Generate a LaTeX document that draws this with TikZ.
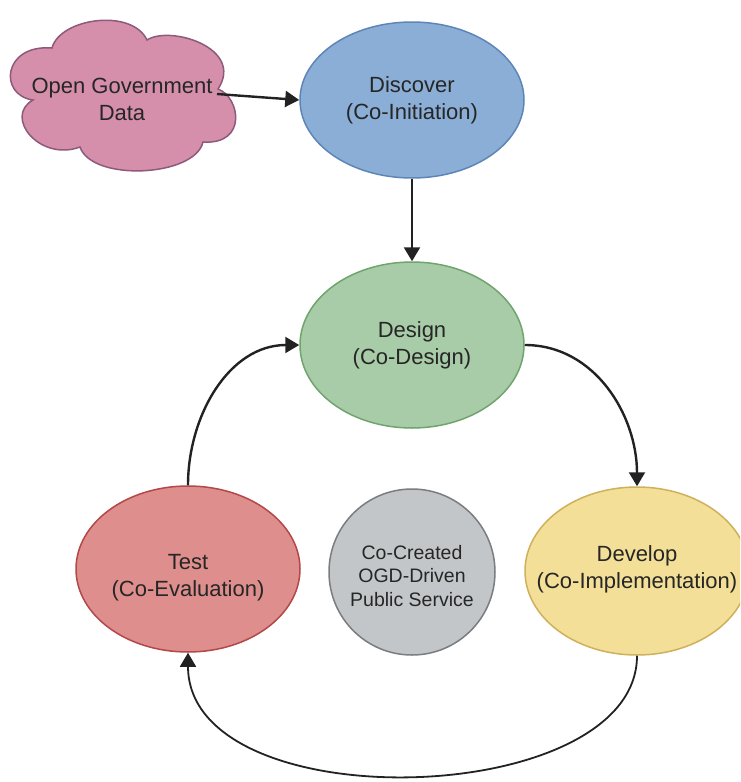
\documentclass[tikz,border=0pt]{standalone}
\usepackage{fontspec}
\setmainfont{Liberation Sans}
\usetikzlibrary{shapes.geometric,arrows.meta}

\definecolor{txt}{HTML}{262626}
\definecolor{cloudfill}{HTML}{D58FAB}
\definecolor{cloudline}{HTML}{8E5A7C}
\definecolor{bluefill}{HTML}{8AAED5}
\definecolor{blueline}{HTML}{5E85B8}
\definecolor{greenfill}{HTML}{A8CCA8}
\definecolor{greenline}{HTML}{6FA56D}
\definecolor{redfill}{HTML}{DE8E8C}
\definecolor{redline}{HTML}{B24848}
\definecolor{yellowfill}{HTML}{F3DF98}
\definecolor{yellowline}{HTML}{CFB05B}
\definecolor{greyfill}{HTML}{C3C6C9}
\definecolor{greyline}{HTML}{7A7D80}
\definecolor{arrowc}{HTML}{222222}

\tikzset{
  phase/.style={ellipse, draw, line width=1.5pt, minimum width=224pt,
    minimum height=166pt, inner sep=0pt},
  hub/.style={circle, draw=greyline, fill=greyfill, line width=1.5pt,
    minimum size=166pt, inner sep=0pt},
  label/.style={align=center, text=txt, inner sep=0pt,
    font=\fontsize{22}{27}\selectfont},
  hublabel/.style={align=center, text=txt, inner sep=0pt,
    font=\fontsize{19.5}{23.5}\selectfont},
  flow/.style={draw=arrowc, line width=2.4pt,
    -{Triangle[length=14pt,width=16pt]}},
}

\begin{document}
\begin{tikzpicture}[x=1pt,y=-1pt]
  \useasboundingbox (0,0) rectangle (740,782);
  \clip (0,0) rectangle (740,782);

  % open data cloud
  \draw[fill=cloudfill, draw=cloudline, line width=1.5pt]
    (52,48) .. controls (60,18) and (132,8) .. (147,40)
    .. controls (170,25) and (245,48) .. (218,89)
    .. controls (240,97) and (248,145) .. (203,142)
    .. controls (195,177) and (92,182) .. (80,147)
    .. controls (40,162) and (3,117) .. (33,100)
    .. controls (-2,95) and (3,44) .. (52,48) -- cycle;
  \node[label] (ogd) at (122,99) {Open Government\\Data};
  \coordinate (cloudtip) at (217,94);

  % phases of the cycle
  \node[phase, fill=bluefill, draw=blueline, minimum height=156pt]
    (discover) at (412,100) {};
  \node[phase, fill=greenfill, draw=greenline] (design) at (412,345) {};
  \node[phase, fill=redfill, draw=redline] (test) at (188,569) {};
  \node[phase, fill=yellowfill, draw=yellowline, minimum height=168pt]
    (develop) at (637,571) {};
  \node[hub] (hub) at (412,572) {};

  \node[label] (discover-t) at (412,100) {Discover\\(Co-Initiation)};
  \node[label] (design-t) at (412,345) {Design\\(Co-Design)};
  \node[label] (test-t) at (188,578) {Test\\(Co-Evaluation)};
  \node[label] (develop-t) at (637,569) {Develop\\(Co-Implementation)};
  \node[hublabel] (hub-t) at (412,576) {Co-Created\\OGD-Driven\\Public Service};

  % connectors
  \draw[flow] (cloudtip) -- (discover.west);
  \draw[flow] (discover.south) -- (design.north);
  \draw[flow] (design.east) to[out=0, in=90] (develop.north);
  \draw[flow] (test.north) to[out=90, in=180] (design.west);
  \draw[flow, line width=1.8pt]
    (develop.south) .. controls (637,810) and (188,822) .. (test.south);
\end{tikzpicture}
\end{document}
